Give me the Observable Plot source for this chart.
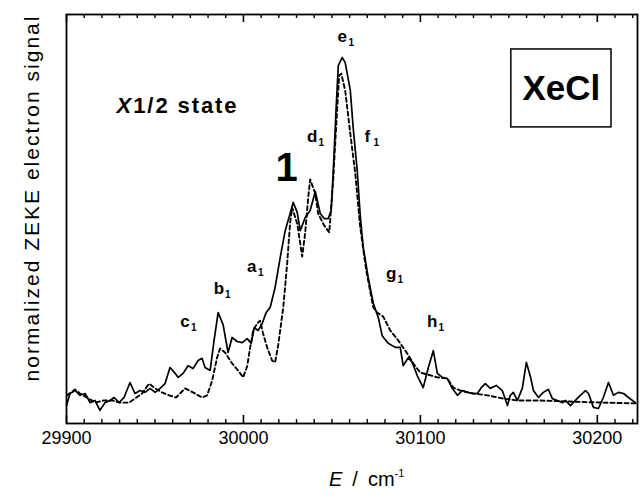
<!DOCTYPE html>
<html><head><meta charset="utf-8">
<script src="https://cdn.jsdelivr.net/npm/d3@7"></script>
<script src="https://cdn.jsdelivr.net/npm/@observablehq/plot@0.6"></script>
<style>body{margin:0;background:#fff;} svg{display:block;}</style>
</head><body><div id="chart"></div>
<script>
// Solid trace (energy in cm^-1, normalized signal)
const solidE = [29900, 29902, 29905, 29907.6, 29910.5, 29913.3, 29916.1, 29918.9, 29921.8, 29924.6,
  29926.9, 29929.7, 29932.5, 29935.9, 29938.7, 29941.6, 29944.4, 29947.2, 29950.1, 29952.9,
  29955.7, 29958.5, 29961.4, 29963.1, 29965.9, 29968.7, 29971.5, 29974.4, 29976.6, 29978.3,
  29981.2, 29983.4, 29985.7, 29988.5, 29991.3, 29993.6, 29996.4, 29999.3, 30002.1, 30004.4,
  30006.1, 30008.3, 30010.6, 30012.8, 30015.1, 30017.9, 30020.8, 30023.6, 30026.4, 30028.1,
  30030.4, 30032.1, 30034.9, 30037.7, 30040.6, 30043.4, 30045.6, 30047.9, 30049.6, 30050.7,
  30052.4, 30053.6, 30055.8, 30057.5, 30060.4, 30062.0, 30064.3, 30066.0, 30067.7, 30070.5,
  30073.4, 30076.2, 30078.4, 30081.8, 30085.8, 30088.6, 30090.3, 30093.2, 30095.4, 30098.2,
  30101.6, 30104.5, 30107.3, 30109.6, 30112.4, 30115.2, 30118.0, 30120.9, 30123.7, 30126.5,
  30129.4, 30132.2, 30134.4, 30136.7, 30139.5, 30142.9, 30146.3, 30149.2, 30150.8, 30152.5,
  30154.8, 30157.6, 30159.9, 30162.2, 30163.9, 30166.7, 30169.5, 30172.3, 30174.6, 30177.4,
  30180.3, 30182.0, 30184.8, 30187.6, 30190.4, 30193.3, 30195.0, 30197.8, 30200.6, 30203.4,
  30206.3, 30209.1, 30211.9, 30214.8, 30217.6, 30221.5];
const solidS = [0.049, 0.082, 0.090, 0.077, 0.082, 0.057, 0.063, 0.036, 0.057, 0.063,
  0.071, 0.057, 0.071, 0.112, 0.082, 0.090, 0.085, 0.096, 0.085, 0.096,
  0.109, 0.153, 0.137, 0.126, 0.137, 0.158, 0.150, 0.172, 0.178, 0.153,
  0.145, 0.227, 0.303, 0.270, 0.194, 0.235, 0.224, 0.221, 0.232, 0.219,
  0.262, 0.254, 0.273, 0.303, 0.317, 0.372, 0.454, 0.527, 0.574, 0.604,
  0.577, 0.527, 0.563, 0.582, 0.634, 0.574, 0.560, 0.560, 0.582, 0.683,
  0.863, 0.978, 1.000, 0.986, 0.910, 0.809, 0.691, 0.568, 0.481, 0.399,
  0.328, 0.290, 0.240, 0.219, 0.208, 0.208, 0.158, 0.180, 0.167, 0.131,
  0.098, 0.153, 0.199, 0.137, 0.126, 0.123, 0.096, 0.077, 0.090, 0.085,
  0.082, 0.082, 0.098, 0.109, 0.096, 0.104, 0.090, 0.049, 0.077, 0.085,
  0.063, 0.096, 0.167, 0.128, 0.090, 0.071, 0.085, 0.093, 0.068, 0.063,
  0.057, 0.063, 0.049, 0.063, 0.077, 0.090, 0.082, 0.044, 0.041, 0.071,
  0.112, 0.077, 0.085, 0.082, 0.071, 0.057];

// Dashed trace
const dashedE = [29900.3, 29904.8, 29907.6, 29912.7, 29916.1, 29921.2, 29925.7, 29930.3, 29935.4, 29938.7,
  29942.7, 29946.7, 29950.1, 29954.0, 29958.0, 29961.9, 29967.0, 29971.5, 29976.6, 29979.5,
  29982.3, 29985.1, 29986.8, 29989.6, 29993.6, 29997.0, 29999.8, 30002.1, 30003.8, 30005.5,
  30007.7, 30009.4, 30011.1, 30013.4, 30016.2, 30017.9, 30019.6, 30022.5, 30024.7, 30026.4,
  30027.5, 30030.4, 30033.2, 30034.9, 30036.6, 30037.7, 30040.6, 30042.2, 30045.6, 30048.5,
  30050.7, 30053.0, 30054.1, 30055.3, 30057.5, 30060.4, 30063.2, 30066.0, 30069.4, 30073.4,
  30075.6, 30079.0, 30083.0, 30087.5, 30092.6, 30096.0, 30099.9, 30103.9, 30109.6, 30115.2,
  30118.6, 30122.6, 30129.9, 30137.8, 30146.9, 30154.8, 30166.1, 30184.8, 30203.4, 30222.7];
const dashedS = [0.077, 0.093, 0.082, 0.068, 0.057, 0.063, 0.063, 0.057, 0.057, 0.068,
  0.082, 0.109, 0.096, 0.085, 0.077, 0.071, 0.096, 0.085, 0.071, 0.077,
  0.117, 0.180, 0.205, 0.194, 0.164, 0.145, 0.126, 0.156, 0.208, 0.254,
  0.273, 0.281, 0.246, 0.208, 0.172, 0.167, 0.213, 0.317, 0.437, 0.549,
  0.590, 0.546, 0.456, 0.522, 0.617, 0.667, 0.628, 0.574, 0.541, 0.522,
  0.664, 0.863, 0.951, 0.956, 0.910, 0.792, 0.683, 0.536, 0.418, 0.317,
  0.303, 0.292, 0.254, 0.227, 0.191, 0.164, 0.139, 0.134, 0.126, 0.123,
  0.098, 0.090, 0.082, 0.077, 0.068, 0.063, 0.063, 0.060, 0.057, 0.055];

// Axis ticks
const majorTicks = [29900, 30000, 30100, 30200];
const minorTicks = d3.range(29910, 30221, 10).filter(v => v % 100 !== 0);

// Peak labels
const peakLetters = ["c", "b", "a", "d", "e", "f", "g", "h"];
const peakE = [29966.9, 29986.1, 30004.7, 30038.9, 30055.8, 30070.0, 30083.5, 30106.7];
const peakS = [0.279, 0.369, 0.429, 0.784, 1.056, 0.784, 0.410, 0.279];
const groupLabel = ["1"];
const groupE = [30024.4];
const groupS = [0.698];

// Annotations
const moleculeLabel = ["XeCl"];
const moleculeE = [30179.7];
const moleculeS = [0.915];
const moleculeBox = [{x1: 30151.4, x2: 30208.0, y1: 0.809, y2: 1.022}];
const stateE = 29928.6, stateS = 0.848;

const solid = solidE.map((e, i) => ({E: e, S: solidS[i]}));
const dashed = dashedE.map((e, i) => ({E: e, S: dashedS[i]}));
const FONT = "'Liberation Sans', Arial, Helvetica, sans-serif";
const PH = 409; // frame height in px

const plot = Plot.plot({
  width: 640, height: 497,
  marginLeft: 66, marginRight: 3, marginTop: 14, marginBottom: 74,
  x: {domain: [29900, 30222.7], axis: null},
  y: {domain: [0, 1.1175], axis: null},
  style: {fontFamily: FONT, background: "#fff", color: "#000"},
  marks: [
    Plot.line(dashed, {x: "E", y: "S", stroke: "#000", strokeWidth: 1.9, strokeDasharray: "4,3"}),
    Plot.line(solid, {x: "E", y: "S", stroke: "#000", strokeWidth: 1.7}),
    Plot.frame({stroke: "#000", strokeWidth: 1.8}),
    Plot.tickX(majorTicks, {x: d => d, insetTop: PH - 8, stroke: "#000", strokeWidth: 1.6}),
    Plot.tickX(minorTicks, {x: d => d, insetTop: PH - 4, stroke: "#000", strokeWidth: 1.4}),
    Plot.tickX(majorTicks, {x: d => d, insetBottom: PH - 8, stroke: "#000", strokeWidth: 1.6}),
    Plot.tickX(minorTicks, {x: d => d, insetBottom: PH - 4, stroke: "#000", strokeWidth: 1.4}),
    Plot.text(majorTicks, {x: d => d, frameAnchor: "bottom", dy: 20, text: d => String(d), fontSize: 18, fill: "#000"}),
    Plot.text(peakLetters, {x: (d, i) => peakE[i], y: (d, i) => peakS[i], text: d => d, fontSize: 17, fontWeight: "bold", fill: "#000"}),
    Plot.text(peakLetters, {x: (d, i) => peakE[i], y: (d, i) => peakS[i], text: () => "1", dx: 9, dy: 6, fontSize: 10, fontWeight: "bold", fill: "#000"}),
    Plot.text(groupLabel, {x: (d, i) => groupE[i], y: (d, i) => groupS[i], text: d => d, fontSize: 40, fontWeight: "bold", fill: "#000"}),
    Plot.rect(moleculeBox, {x1: "x1", x2: "x2", y1: "y1", y2: "y2", fill: "#fff", stroke: "#000", strokeWidth: 1.5}),
    Plot.text(moleculeLabel, {x: (d, i) => moleculeE[i], y: (d, i) => moleculeS[i], text: d => d, fontSize: 35, fontWeight: "bold", fill: "#000"})
  ]
});

const sx = plot.scale("x"), sy = plot.scale("y");
const svg = d3.select(plot);

// "X1/2 state"
const st = svg.append("text")
  .attr("x", sx.apply(stateE)).attr("y", sy.apply(stateS))
  .attr("text-anchor", "start")
  .attr("font-family", FONT).attr("font-size", 22).attr("font-weight", "bold")
  .attr("textLength", 120).attr("lengthAdjust", "spacing");
st.append("tspan").attr("font-style", "italic").text("X");
st.append("tspan").text("1/2 state");

// y-axis title
svg.append("text")
  .attr("transform", "translate(39,199) rotate(-90)")
  .attr("text-anchor", "middle")
  .attr("font-family", FONT).attr("font-size", 21)
  .attr("textLength", 365).attr("lengthAdjust", "spacing")
  .text("normalized ZEKE electron signal");

// x-axis title
const xt = svg.append("text")
  .attr("x", 329).attr("y", 486)
  .attr("text-anchor", "start")
  .attr("font-family", FONT).attr("font-size", 20);
xt.append("tspan").attr("font-style", "italic").text("E");
xt.append("tspan").attr("dx", 10).text("/");
xt.append("tspan").attr("dx", 10).text("cm");
xt.append("tspan").attr("font-size", 11).attr("dy", -9).text("-1");

document.getElementById("chart").appendChild(plot);
</script>
</body></html>
